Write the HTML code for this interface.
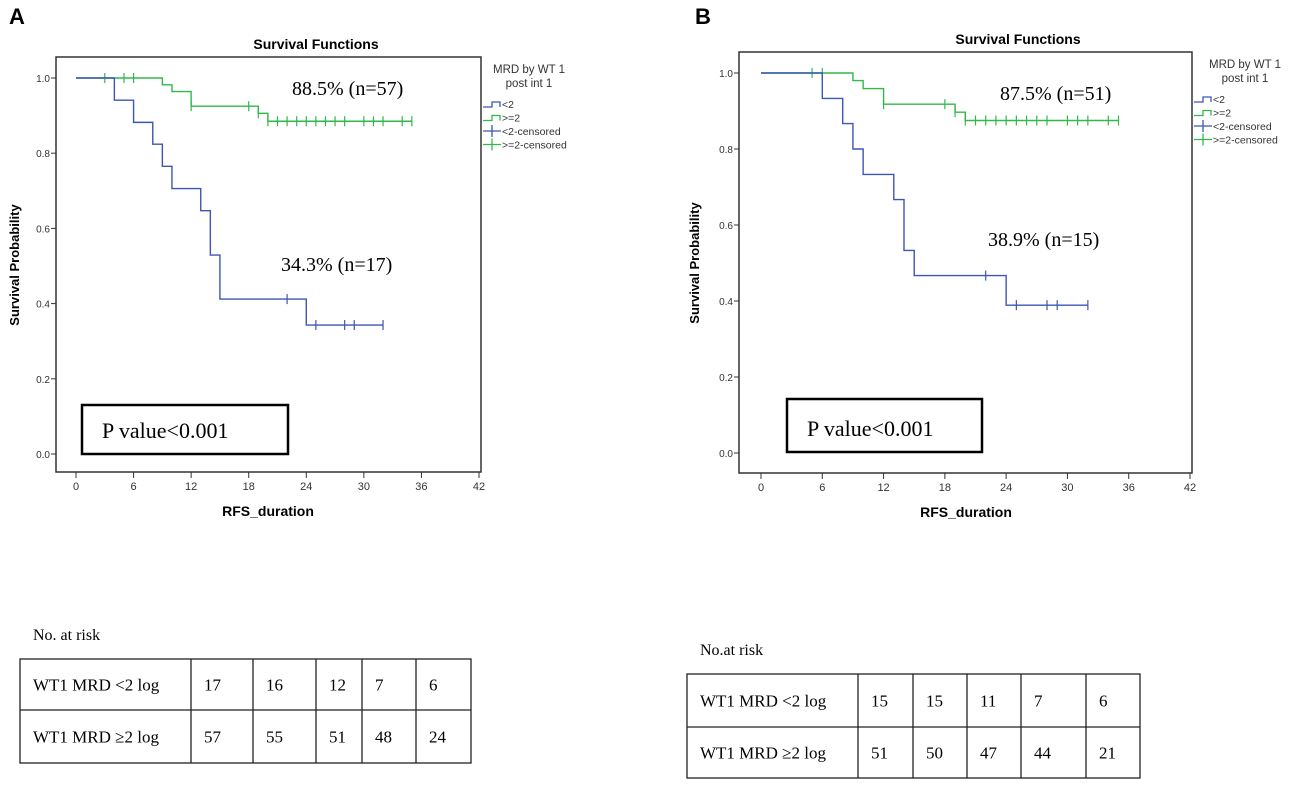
<!DOCTYPE html>
<html><head><meta charset="utf-8"><style>
html,body{margin:0;padding:0;background:#fff;}
body{width:1299px;height:786px;position:relative;overflow:hidden;}
svg{position:absolute;left:0;top:0;}
</style></head><body>
<svg id="fig" width="1299" height="786" viewBox="0 0 1299 786" xmlns="http://www.w3.org/2000/svg"></svg>
<script>
// ---- Data: panel A ----
const xTicks = [0, 6, 12, 18, 24, 30, 36, 42];
const yTicks = [0.0, 0.2, 0.4, 0.6, 0.8, 1.0];
const aBlueTimes = [0, 4, 6, 8, 9, 10, 13, 14, 15, 24];
const aBlueSurv  = [1.0, 0.941, 0.882, 0.824, 0.765, 0.706, 0.647, 0.529, 0.412, 0.343];
const aBlueEnd = 32;
const aBlueCensT = [22, 25, 28, 29, 32];
const aGreenTimes = [0, 9, 10, 12, 19, 20];
const aGreenSurv  = [1.0, 0.982, 0.964, 0.925, 0.906, 0.885];
const aGreenEnd = 35;
const aGreenCensT = [3, 5, 6, 12, 18, 19, 20, 21, 22, 23, 24, 25, 26, 27, 28, 30, 31, 32, 34, 35];
const aRiskLow  = [17, 16, 12, 7, 6];
const aRiskHigh = [57, 55, 51, 48, 24];
// ---- Data: panel B ----
const bBlueTimes = [0, 6, 8, 9, 10, 13, 14, 15, 24];
const bBlueSurv  = [1.0, 0.933, 0.867, 0.800, 0.733, 0.667, 0.533, 0.467, 0.389];
const bBlueEnd = 32;
const bBlueCensT = [22, 25, 28, 29, 32];
const bGreenTimes = [0, 9, 10, 12, 19, 20];
const bGreenSurv  = [1.0, 0.980, 0.959, 0.918, 0.897, 0.875];
const bGreenEnd = 35;
const bGreenCensT = [5, 6, 12, 18, 19, 20, 21, 22, 23, 24, 25, 26, 27, 28, 30, 31, 32, 34, 35];
const bRiskLow  = [15, 15, 11, 7, 6];
const bRiskHigh = [51, 50, 47, 44, 21];

const NS = 'http://www.w3.org/2000/svg';
const svg = document.getElementById('fig');
function el(tag, attrs, parent, text) {
  const e = document.createElementNS(NS, tag);
  for (const k in attrs) e.setAttribute(k, attrs[k]);
  if (text !== undefined) e.textContent = text;
  (parent || svg).appendChild(e);
  return e;
}
const BLUE = '#3d55b4', GREEN = '#30b94a';

function survAt(times, surv, t) {
  let v = surv[0];
  for (let i = 0; i < times.length; i++) if (times[i] <= t) v = surv[i];
  return v;
}

function drawPanel(p) {
  const g = el('g', {});
  
  
  const X = t => p.x0 + (t - 0) * (p.x42 - p.x0) / 42;
  const Y = v => p.y0 - v * (p.y0 - p.y1);
  // panel letter
  const L = el('text', {x: p.letterX, y: 24, 'font-family': 'Liberation Sans, sans-serif', 'font-size': 22, 'font-weight': 'bold'}, g, p.letter);
  
  
  // title
  const T = el('text', {x: p.titleX, y: p.titleY, 'text-anchor': 'middle', 'font-family': 'Liberation Sans, sans-serif', 'font-size': 14, 'font-weight': 'bold'}, g, 'Survival Functions');
  
  
  // frame
  const F = el('rect', {x: p.fl, y: p.ft, width: p.fr - p.fl, height: p.fb - p.ft, fill: 'none', stroke: '#333', 'stroke-width': 1.5}, g);
  
  
  // y ticks
  yTicks.forEach(v => {
    el('line', {x1: p.fl - 5, x2: p.fl, y1: Y(v), y2: Y(v), stroke: '#333'}, g);
    const t = el('text', {x: p.fl - 6, y: Y(v) + 4, 'text-anchor': 'end', 'font-family': 'Liberation Sans, sans-serif', 'font-size': 10, fill: '#333'}, g, v.toFixed(1));
    
    
  });
  // x ticks
  xTicks.forEach(v => {
    el('line', {x1: X(v), x2: X(v), y1: p.fb, y2: p.fb + 6, stroke: '#333'}, g);
    const t = el('text', {x: X(v), y: p.fb + 18, 'text-anchor': 'middle', 'font-family': 'Liberation Sans, sans-serif', 'font-size': 11, fill: '#333'}, g, String(v));
    
    
  });
  const XT = el('text', {x: p.xTitleX, y: p.fb + 44, 'text-anchor': 'middle', 'font-family': 'Liberation Sans, sans-serif', 'font-size': 14, 'font-weight': 'bold'}, g, 'RFS_duration');
  
  
  const YT = el('text', {x: 0, y: 0, transform: `translate(${p.yTitleX},${p.yTitleY}) rotate(-90)`, 'text-anchor': 'middle', 'font-family': 'Liberation Sans, sans-serif', 'font-size': 13, 'font-weight': 'bold'}, g, 'Survival Probability');
  
  
  // curves
  function curve(times, surv, end, cens, color, name) {
    let d = `M${X(times[0])},${Y(surv[0])}`;
    for (let i = 1; i < times.length; i++) {
      d += ` H${X(times[i])} V${Y(surv[i])}`;
    }
    d += ` H${X(end)}`;
    const c = el('path', {d: d, fill: 'none', stroke: color, 'stroke-width': 1.4}, g);
    
    
    cens.forEach(t => {
      const v = survAt(times, surv, t);
      const m = el('line', {x1: X(t), x2: X(t), y1: Y(v) - 5, y2: Y(v) + 5, stroke: color, 'stroke-width': 1.2}, g);
      
      
    });
  }
  curve(p.gT, p.gS, p.gE, p.gC, GREEN, 'ge2');
  curve(p.bT, p.bS, p.bE, p.bC, BLUE, 'lt2');
  // annotations
  const A1 = el('text', {x: p.ann1X, y: p.ann1Y, 'font-family': 'Liberation Serif, serif', 'font-size': 20}, g, p.ann1);
  
  
  const A2 = el('text', {x: p.ann2X, y: p.ann2Y, 'font-family': 'Liberation Serif, serif', 'font-size': 20}, g, p.ann2);
  
  
  // p-value box
  const PB = el('rect', {x: p.pbL, y: p.pbT, width: p.pbR - p.pbL, height: p.pbB - p.pbT, fill: '#fff', stroke: '#000', 'stroke-width': 2.5}, g);
  
  
  const PT = el('text', {x: p.pbL + 20, y: p.pbB - 16, 'font-family': 'Liberation Serif, serif', 'font-size': 22}, g, 'P value<0.001');
  
  
  // legend
  const lg = el('g', {}, g);
  
  
  const lx = p.legX;
  el('text', {x: p.legCX, y: p.legY, 'text-anchor': 'middle', 'font-family': 'Liberation Sans, sans-serif', 'font-size': 11.5, fill: '#333'}, lg, 'MRD by WT 1');
  el('text', {x: p.legCX, y: p.legY + 14, 'text-anchor': 'middle', 'font-family': 'Liberation Sans, sans-serif', 'font-size': 11.5, fill: '#333'}, lg, 'post int 1');
  const entries = [['<2', BLUE, 'step'], ['>=2', GREEN, 'step'], ['<2-censored', BLUE, 'cens'], ['>=2-censored', GREEN, 'cens']];
  entries.forEach((e, i) => {
    const y = p.legY + 34 + i * 13.5;
    const eg = el('g', {}, lg);
    
    
    if (e[2] === 'step') {
      el('path', {d: `M${lx},${y} H${lx + 9} V${y - 5} H${lx + 17} V${y}`, fill: 'none', stroke: e[1], 'stroke-width': 1.3}, eg);
    } else {
      el('line', {x1: lx, x2: lx + 18, y1: y - 3, y2: y - 3, stroke: e[1], 'stroke-width': 1.3}, eg);
      el('line', {x1: lx + 9, x2: lx + 9, y1: y - 9, y2: y + 3, stroke: e[1], 'stroke-width': 1.3}, eg);
    }
    el('text', {x: lx + 19, y: y + 1, 'font-family': 'Liberation Sans, sans-serif', 'font-size': 10.5, fill: '#333'}, eg, e[0]);
  });
}

function drawTable(t) {
  const g = el('g', {});
  
  
  const cap = el('text', {x: t.capX, y: t.capY, 'font-family': 'Liberation Serif, serif', 'font-size': 16}, g, t.caption);
  
  
  el('rect', {x: t.l, y: t.t, width: t.r - t.l, height: t.b - t.t, fill: 'none', stroke: '#222', 'stroke-width': 1.3}, g);
  el('line', {x1: t.l, x2: t.r, y1: t.m, y2: t.m, stroke: '#222', 'stroke-width': 1.3}, g);
  t.cols.forEach(c => el('line', {x1: c, x2: c, y1: t.t, y2: t.b, stroke: '#222', 'stroke-width': 1.3}, g));
  const rows = [['WT1 MRD <2 log', t.low], ['WT1 MRD \u22652 log', t.high]];
  rows.forEach((r, i) => {
    const y = (i === 0 ? (t.t + t.m) / 2 : (t.m + t.b) / 2) + 6;
    const lab = el('text', {x: t.l + 13, y: y, 'font-family': 'Liberation Serif, serif', 'font-size': 17}, g, r[0]);
    
    
    r[1].forEach((v, j) => {
      const c = el('text', {x: t.cols[j] + 13, y: y, 'font-family': 'Liberation Serif, serif', 'font-size': 17}, g, String(v));
      
      
    });
  });
}

drawPanel({name: 'panel-a', letter: 'A', letterX: 9, titleX: 316, titleY: 49,
  x0: 76, x42: 479, y0: 454, y1: 78, fl: 56, fr: 481, ft: 57, fb: 472,
  xTitleX: 268, yTitleX: 19, yTitleY: 265,
  bT: aBlueTimes, bS: aBlueSurv, bE: aBlueEnd, bC: aBlueCensT,
  gT: aGreenTimes, gS: aGreenSurv, gE: aGreenEnd, gC: aGreenCensT,
  ann1: '88.5% (n=57)', ann1X: 292, ann1Y: 95, ann2: '34.3% (n=17)', ann2X: 281, ann2Y: 271,
  pbL: 82, pbR: 288, pbT: 405, pbB: 454,
  legX: 483, legCX: 529, legY: 73});
drawPanel({name: 'panel-b', letter: 'B', letterX: 695, titleX: 1018, titleY: 44,
  x0: 761, x42: 1190, y0: 453, y1: 73, fl: 739, fr: 1192, ft: 52, fb: 473,
  xTitleX: 966, yTitleX: 699, yTitleY: 263,
  bT: bBlueTimes, bS: bBlueSurv, bE: bBlueEnd, bC: bBlueCensT,
  gT: bGreenTimes, gS: bGreenSurv, gE: bGreenEnd, gC: bGreenCensT,
  ann1: '87.5% (n=51)', ann1X: 1000, ann1Y: 100, ann2: '38.9% (n=15)', ann2X: 988, ann2Y: 246,
  pbL: 787, pbR: 982, pbT: 399, pbB: 452,
  legX: 1194, legCX: 1245, legY: 68});
drawTable({name: 'at-risk-table-a', caption: 'No. at risk', capX: 33, capY: 640,
  l: 20, r: 471, t: 659, m: 710, b: 763, cols: [191, 253, 316, 362, 416],
  low: aRiskLow, high: aRiskHigh});
drawTable({name: 'at-risk-table-b', caption: 'No.at risk', capX: 700, capY: 655,
  l: 687, r: 1140, t: 674, m: 727, b: 778, cols: [858, 913, 967, 1021, 1086],
  low: bRiskLow, high: bRiskHigh});
</script>
</body></html>
